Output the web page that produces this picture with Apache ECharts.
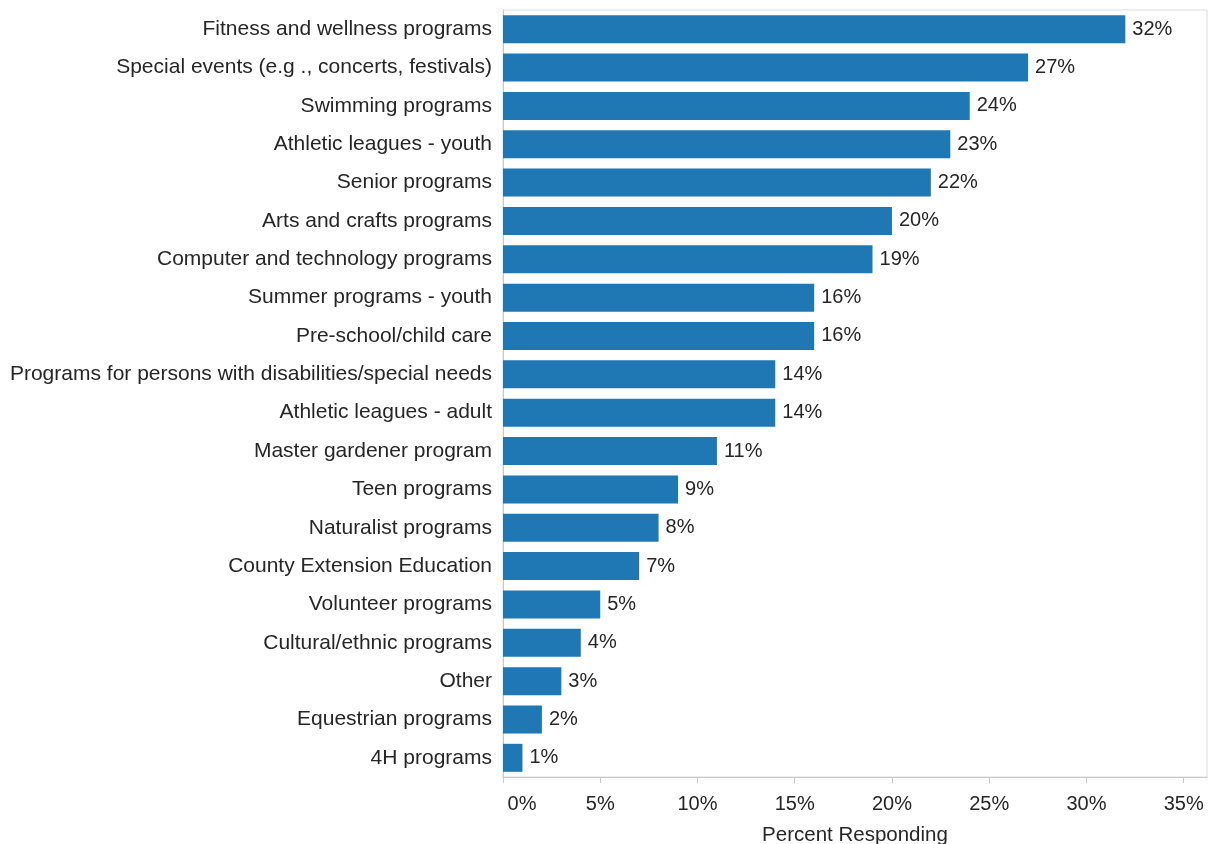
<!DOCTYPE html>
<html>
<head>
<meta charset="utf-8">
<title>Percent Responding by Program</title>
<script src="https://cdn.jsdelivr.net/npm/echarts@6/dist/echarts.min.js"></script>
<style>
  html, body { margin: 0; padding: 0; background: #ffffff; }
  #chart { width: 1209px; height: 844px; }
</style>
</head>
<body>
<div id="chart"></div>
<script>
// Program categories, top to bottom
const categories = [
  'Fitness and wellness programs',
  'Special events (e.g ., concerts, festivals)',
  'Swimming programs',
  'Athletic leagues - youth',
  'Senior programs',
  'Arts and crafts programs',
  'Computer and technology programs',
  'Summer programs - youth',
  'Pre-school/child care',
  'Programs for persons with disabilities/special needs',
  'Athletic leagues - adult',
  'Master gardener program',
  'Teen programs',
  'Naturalist programs',
  'County Extension Education',
  'Volunteer programs',
  'Cultural/ethnic programs',
  'Other',
  'Equestrian programs',
  '4H programs'
];

// Percent responding for each category
const percents = [32, 27, 24, 23, 22, 20, 19, 16, 16, 14, 14, 11, 9, 8, 7, 5, 4, 3, 2, 1];

// Tick values on the percent axis
const xTicks = [0, 5, 10, 15, 20, 25, 30, 35];
const xMax = 36.2;

const FONT = 'Liberation Sans, Arial, sans-serif';
const TEXT = '#262626';

const chart = echarts.init(document.getElementById('chart'), null, { renderer: 'canvas' });

chart.setOption({
  animation: false,
  backgroundColor: '#ffffff',
  textStyle: { fontFamily: FONT },
  grid: {
    left: 503,
    top: 10,
    right: 2,
    bottom: 67,
    outerBoundsMode: 'none',
    show: true,
    borderColor: '#dcdcdc',
    borderWidth: 1,
    containLabel: false
  },
  xAxis: {
    type: 'value',
    min: 0,
    max: xMax,
    name: 'Percent Responding',
    nameLocation: 'middle',
    nameGap: 48,
    nameTextStyle: { color: TEXT, fontSize: 20.5, fontFamily: FONT },
    axisLine: { show: true, lineStyle: { color: '#c8c8c8', width: 1 } },
    axisTick: {
      show: true,
      length: 6,
      customValues: xTicks,
      lineStyle: { color: '#c8c8c8' }
    },
    splitLine: { show: false },
    axisLabel: {
      customValues: xTicks,
      margin: 17,
      color: TEXT,
      fontSize: 20,
      fontFamily: FONT,
      formatter: function (v) {
        return v === 0 ? '{z|0%}' : v + '%';
      },
      rich: {
        z: { color: TEXT, fontSize: 20, fontFamily: FONT, padding: [0, 0, 0, 38] }
      }
    }
  },
  yAxis: {
    type: 'category',
    data: categories,
    inverse: true,
    axisLine: { show: true, lineStyle: { color: '#c8c8c8', width: 1 } },
    axisTick: { show: false },
    axisLabel: {
      margin: 11,
      color: TEXT,
      fontSize: 21,
      fontFamily: FONT
    }
  },
  series: [{
    type: 'bar',
    data: percents,
    barWidth: 28,
    itemStyle: { color: '#1f77b4' },
    label: {
      show: true,
      position: 'right',
      distance: 7,
      color: TEXT,
      fontSize: 20,
      fontFamily: FONT,
      formatter: '{c}%'
    }
  }]
});
</script>
</body>
</html>
